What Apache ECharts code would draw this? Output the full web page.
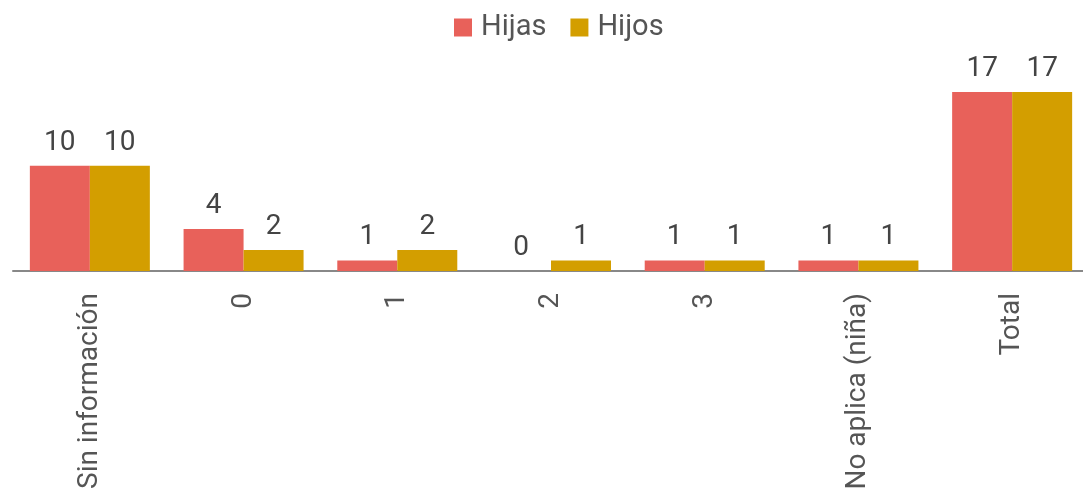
<!DOCTYPE html>
<html>
<head>
<meta charset="utf-8">
<script src="https://cdn.jsdelivr.net/npm/echarts@6/dist/echarts.min.js"></script>
<style>
  html, body { margin: 0; padding: 0; background: #fff; }
  #chart { width: 1083px; height: 491px; }
</style>
</head>
<body>
<div id="chart"></div>
<script>
// categories and values
const categories = ["Sin información", "0", "1", "2", "3", "No aplica (niña)", "Total"];
const hijas = [10, 4, 1, 0, 1, 1, 17];
const hijos = [10, 2, 2, 1, 1, 1, 17];

const fontFamily = "Roboto, 'Noto Sans', sans-serif";

const valueLabel = {
    show: true,
    position: "top",
    distance: 9,
    fontSize: 28,
    fontFamily: fontFamily,
    color: "#444",
};

const chart = echarts.init(document.getElementById("chart"));
chart.setOption({
    animation: false,
    legend: {
        top: 8,
        left: 449,
        itemWidth: 18,
        itemHeight: 18,
        itemGap: 24,
        icon: "rect",
        textStyle: { fontSize: 29, fontFamily: fontFamily, color: "#555", padding: [0, 0, 0, 4] },
        data: ["Hijas", "Hijos"],
    },
    grid: { left: 13, width: 1076, top: 92, bottom: 220, outerBoundsMode: "none" },
    xAxis: {
        type: "category",
        data: categories,
        axisTick: { show: false },
        axisLine: { lineStyle: { color: "#888", width: 2 } },
        axisLabel: {
            rotate: 90,
            margin: 22,
            fontSize: 28,
            fontFamily: fontFamily,
            color: "#555",
        },
    },
    yAxis: {
        type: "value",
        min: 0,
        max: 17,
        show: false,
    },
    series: [
        {
            name: "Hijas",
            type: "bar",
            data: hijas,
            barWidth: 60,
            barGap: "0%",
            itemStyle: { color: "#e8615a" },
            label: valueLabel,
        },
        {
            name: "Hijos",
            type: "bar",
            data: hijos,
            barWidth: 60,
            barGap: "0%",
            itemStyle: { color: "#d39e00" },
            label: valueLabel,
        },
    ],
});
</script>
</body>
</html>
